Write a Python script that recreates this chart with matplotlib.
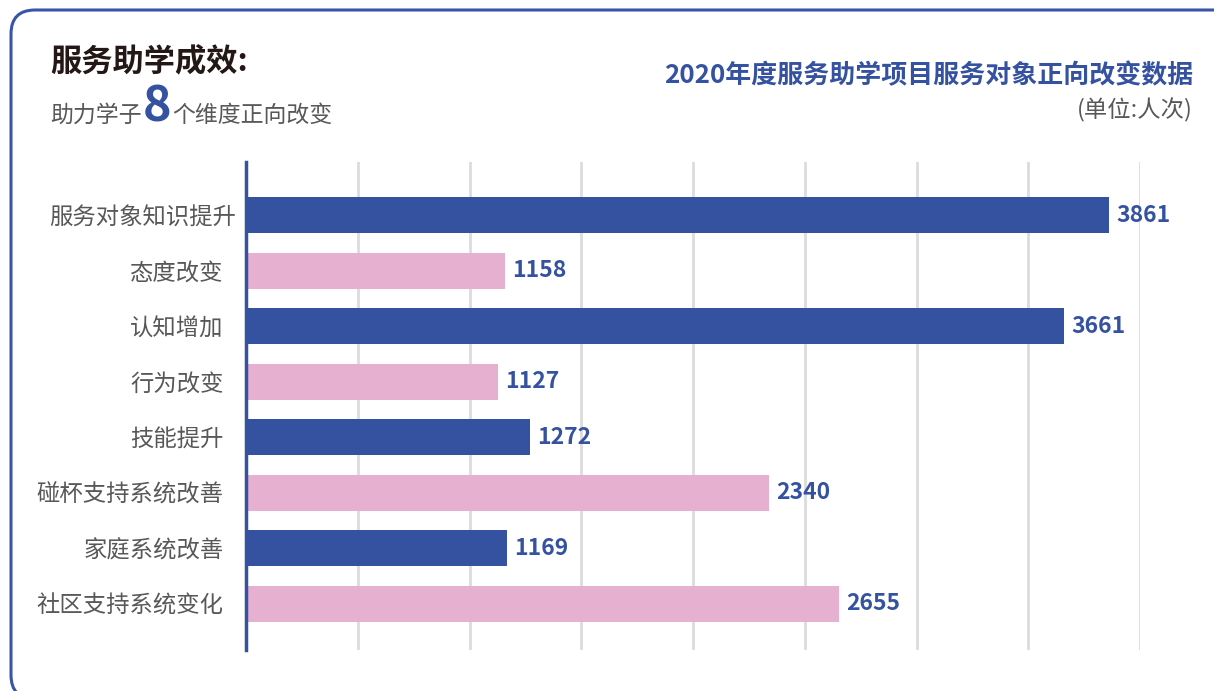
import matplotlib
matplotlib.use("Agg")
import matplotlib.pyplot as plt
from matplotlib.patches import FancyBboxPatch
from matplotlib.transforms import IdentityTransform, ScaledTranslation

plt.rcParams['font.family'] = ['Noto Sans CJK SC', 'DejaVu Sans']

categories = ["服务对象知识提升", "态度改变", "认知增加", "行为改变",
              "技能提升", "碰杯支持系统改善", "家庭系统改善", "社区支持系统变化"]
values = [3861, 1158, 3661, 1127, 1272, 2340, 1169, 2655]
xticks = [0, 500, 1000, 1500, 2000, 2500, 3000, 3500, 4000]

BLUE = "#3552a1"
PINK = "#e6b0d0"
GRID = "#dcdcdc"
W, H = 1214, 691

fig = plt.figure(figsize=(W/100, H/100), dpi=100, facecolor="white")

# rounded frame, in pixels (bottom and right run off the image)
frame = FancyBboxPatch((11, -8), W + 20, H - 2, boxstyle="round,pad=0,rounding_size=24",
                       transform=IdentityTransform(), fc="none", ec="#3a55a8", lw=2.2,
                       clip_on=False)
fig.patches.append(frame)

ax = fig.add_axes([246/W, 1-650/H, (1140-246)/W, (650-162)/H])
ys = list(range(len(categories)))
colors = [BLUE if i % 2 == 0 else PINK for i in ys]
ax.barh(ys, values, height=0.65, color=colors, zorder=3)
ax.set_xlim(0, 4000)
ax.set_ylim(7.83, -0.96)
ax.set_xticks(xticks)
ax.xaxis.grid(True, color=GRID, lw=2, zorder=0)
ax.set_xticklabels([])
ax.tick_params(axis="x", length=0)
ax.set_yticks(ys)
ax.set_yticklabels(categories, fontsize=16.8, color="#595757")
ax.tick_params(axis="y", length=0, pad=16)
# first label sits a little further right in the original
lab0 = ax.get_yticklabels()[0]
lab0.set_transform(lab0.get_transform() + ScaledTranslation(0.12, 0, fig.dpi_scale_trans))
for s in ["top", "right", "bottom"]:
    ax.spines[s].set_visible(False)
ax.spines["left"].set_color(BLUE)
ax.spines["left"].set_linewidth(2.5)
ax.spines["left"].set_zorder(4)

for y, v in zip(ys, values):
    ax.annotate(f"{v}", (v, y), xytext=(5, 0), textcoords="offset points",
                va="center", ha="left", fontsize=16.5, fontweight="bold",
                color=BLUE, clip_on=False)

def px(x, y):
    return x / W, 1 - y / H

fig.text(*px(50, 71), "服务助学成效:", fontsize=22.5, fontweight="bold",
         color="#231815", va="baseline", ha="left")
fig.text(*px(50, 122), "助力学子", fontsize=16.5, color="#595757", va="baseline", ha="left")
fig.text(*px(143, 122), "8", fontsize=35, fontweight="bold", color=BLUE,
         va="baseline", ha="left")
fig.text(*px(172, 122), "个维度正向改变", fontsize=16.5, color="#595757",
         va="baseline", ha="left")

fig.text(*px(1193, 83), "2020年度服务助学项目服务对象正向改变数据", fontsize=18.7,
         fontweight="bold", color=BLUE, va="baseline", ha="right")
fig.text(*px(1193, 117), "(单位:人次)", fontsize=16.8, color="#595757",
         va="baseline", ha="right")

fig.savefig("out.png", dpi=100)
